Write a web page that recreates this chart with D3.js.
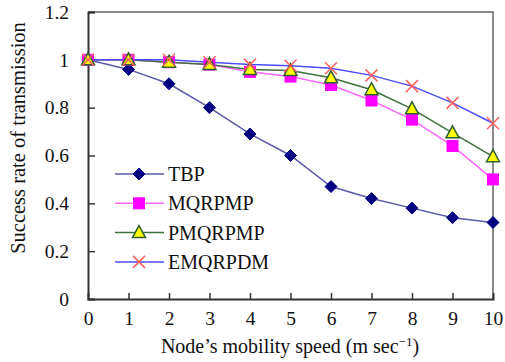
<!DOCTYPE html>
<html>
<head>
<meta charset="utf-8">
<script src="https://cdn.jsdelivr.net/npm/d3@7"></script>
<style>
  body { margin: 0; background: #fff; }
</style>
</head>
<body>
<script>
// Data
const speeds = [0, 1, 2, 3, 4, 5, 6, 7, 8, 9, 10];
const tbp = [1, 0.96, 0.9, 0.8, 0.69, 0.6, 0.47, 0.42, 0.38, 0.34, 0.32];
const mqrpmp = [1, 1, 0.99, 0.98, 0.95, 0.93, 0.895, 0.83, 0.75, 0.64, 0.5];
const pmqrpmp = [1, 1, 0.99, 0.98, 0.96, 0.955, 0.925, 0.875, 0.795, 0.695, 0.595];
const emqrpdm = [1, 1, 1, 0.99, 0.98, 0.975, 0.965, 0.935, 0.89, 0.82, 0.735];
const yTicks = [0, 0.2, 0.4, 0.6, 0.8, 1, 1.2];

const series = [
  { name: "TBP", values: tbp, line: "#5a5aa8", marker: "diamond", fill: "#000080", stroke: "#000080" },
  { name: "MQRPMP", values: mqrpmp, line: "#ff66ff", marker: "square", fill: "#ff00ff", stroke: "#ff00ff" },
  { name: "PMQRPMP", values: pmqrpmp, line: "#3f6f3f", marker: "triangle", fill: "#ffff00", stroke: "#2f5f2f" },
  { name: "EMQRPDM", values: emqrpdm, line: "#4d4dff", marker: "cross", fill: "none", stroke: "#ff6060" }
];

const width = 505, height = 362;
const margin = { left: 88, right: 12, top: 12, bottom: 63 };
const serif = "Liberation Serif";

const svg = d3.select("body").append("svg")
  .attr("width", width)
  .attr("height", height)
  .attr("font-family", serif);

const x = d3.scaleLinear().domain([0, 10]).range([margin.left, width - margin.right]);
const y = d3.scaleLinear().domain([0, 1.2]).range([height - margin.bottom, margin.top]);

// frame (top and right)
svg.append("path")
  .attr("d", `M${x(0)},${y(1.2)}H${x(10)}V${y(0)}`)
  .attr("fill", "none")
  .attr("stroke", "#666")
  .attr("stroke-width", 1.5);

// axes with inward ticks
const xAxis = svg.append("g")
  .attr("transform", `translate(0,${y(0)})`)
  .call(d3.axisBottom(x).tickValues(speeds).tickSize(-6).tickPadding(12).tickFormat(d3.format("d")));
const yAxis = svg.append("g")
  .attr("transform", `translate(${x(0)},0)`)
  .call(d3.axisLeft(y).tickValues(yTicks).tickSize(-7).tickPadding(19).tickFormat(d => d === 0 || d === 1 ? d : d.toFixed(1)));

[xAxis, yAxis].forEach(g => {
  g.attr("font-family", serif);
  g.select(".domain").attr("stroke", "#333").attr("stroke-width", 2);
  g.selectAll(".tick line").attr("stroke", "#333").attr("stroke-width", 1.5);
  g.selectAll(".tick text").attr("font-size", 19.5).attr("fill", "#111").attr("font-family", serif);
});
xAxis.selectAll(".tick").filter(d => d === 0 || d === 10).select("line").remove();

// marker drawing
function drawMarker(g, s, cx, cy) {
  if (s.marker === "diamond") {
    g.append("path").attr("d", `M${cx},${cy - 6}L${cx + 6},${cy}L${cx},${cy + 6}L${cx - 6},${cy}Z`)
      .attr("fill", s.fill).attr("stroke", s.stroke);
  } else if (s.marker === "square") {
    g.append("rect").attr("x", cx - 5.5).attr("y", cy - 5.5).attr("width", 11).attr("height", 11)
      .attr("fill", s.fill).attr("stroke", s.stroke);
  } else if (s.marker === "triangle") {
    g.append("path").attr("d", `M${cx},${cy - 7}L${cx + 6.5},${cy + 5}L${cx - 6.5},${cy + 5}Z`)
      .attr("fill", s.fill).attr("stroke", s.stroke).attr("stroke-width", 1.5);
  } else {
    g.append("path").attr("d", `M${cx - 6},${cy - 6}L${cx + 6},${cy + 6}M${cx + 6},${cy - 6}L${cx - 6},${cy + 6}`)
      .attr("fill", "none").attr("stroke", s.stroke).attr("stroke-width", 1.5);
  }
}

const line = d3.line().x((d, i) => x(speeds[i])).y(d => y(d));

series.forEach(s => {
  svg.append("path")
    .datum(s.values)
    .attr("d", line)
    .attr("fill", "none")
    .attr("stroke", s.line)
    .attr("stroke-width", 1.5);
});
series.forEach(s => {
  const g = svg.append("g");
  s.values.forEach((v, i) => drawMarker(g, s, x(speeds[i]), y(v)));
});

// legend
const legend = svg.append("g");
series.forEach((s, i) => {
  const ly = 174 + i * 29.3;
  legend.append("line").attr("x1", 115).attr("x2", 164).attr("y1", ly).attr("y2", ly)
    .attr("stroke", s.line).attr("stroke-width", 1.5);
  drawMarker(legend, s, 139, ly);
  legend.append("text").attr("x", 168).attr("y", ly + 7)
    .attr("font-family", serif).attr("font-size", 20).attr("fill", "#111")
    .text(s.name);
});

// axis titles
svg.append("text")
  .attr("x", 290).attr("y", 353)
  .attr("text-anchor", "middle").attr("font-family", serif).attr("font-size", 20).attr("fill", "#111")
  .html('Node’s mobility speed (m sec<tspan dy="-7" font-size="13">−1</tspan><tspan dy="7">)</tspan>');

svg.append("text")
  .attr("transform", "translate(25,138) rotate(-90)")
  .attr("text-anchor", "middle").attr("font-family", serif).attr("font-size", 20.5).attr("fill", "#111")
  .text("Success rate of transmission");
</script>
</body>
</html>
